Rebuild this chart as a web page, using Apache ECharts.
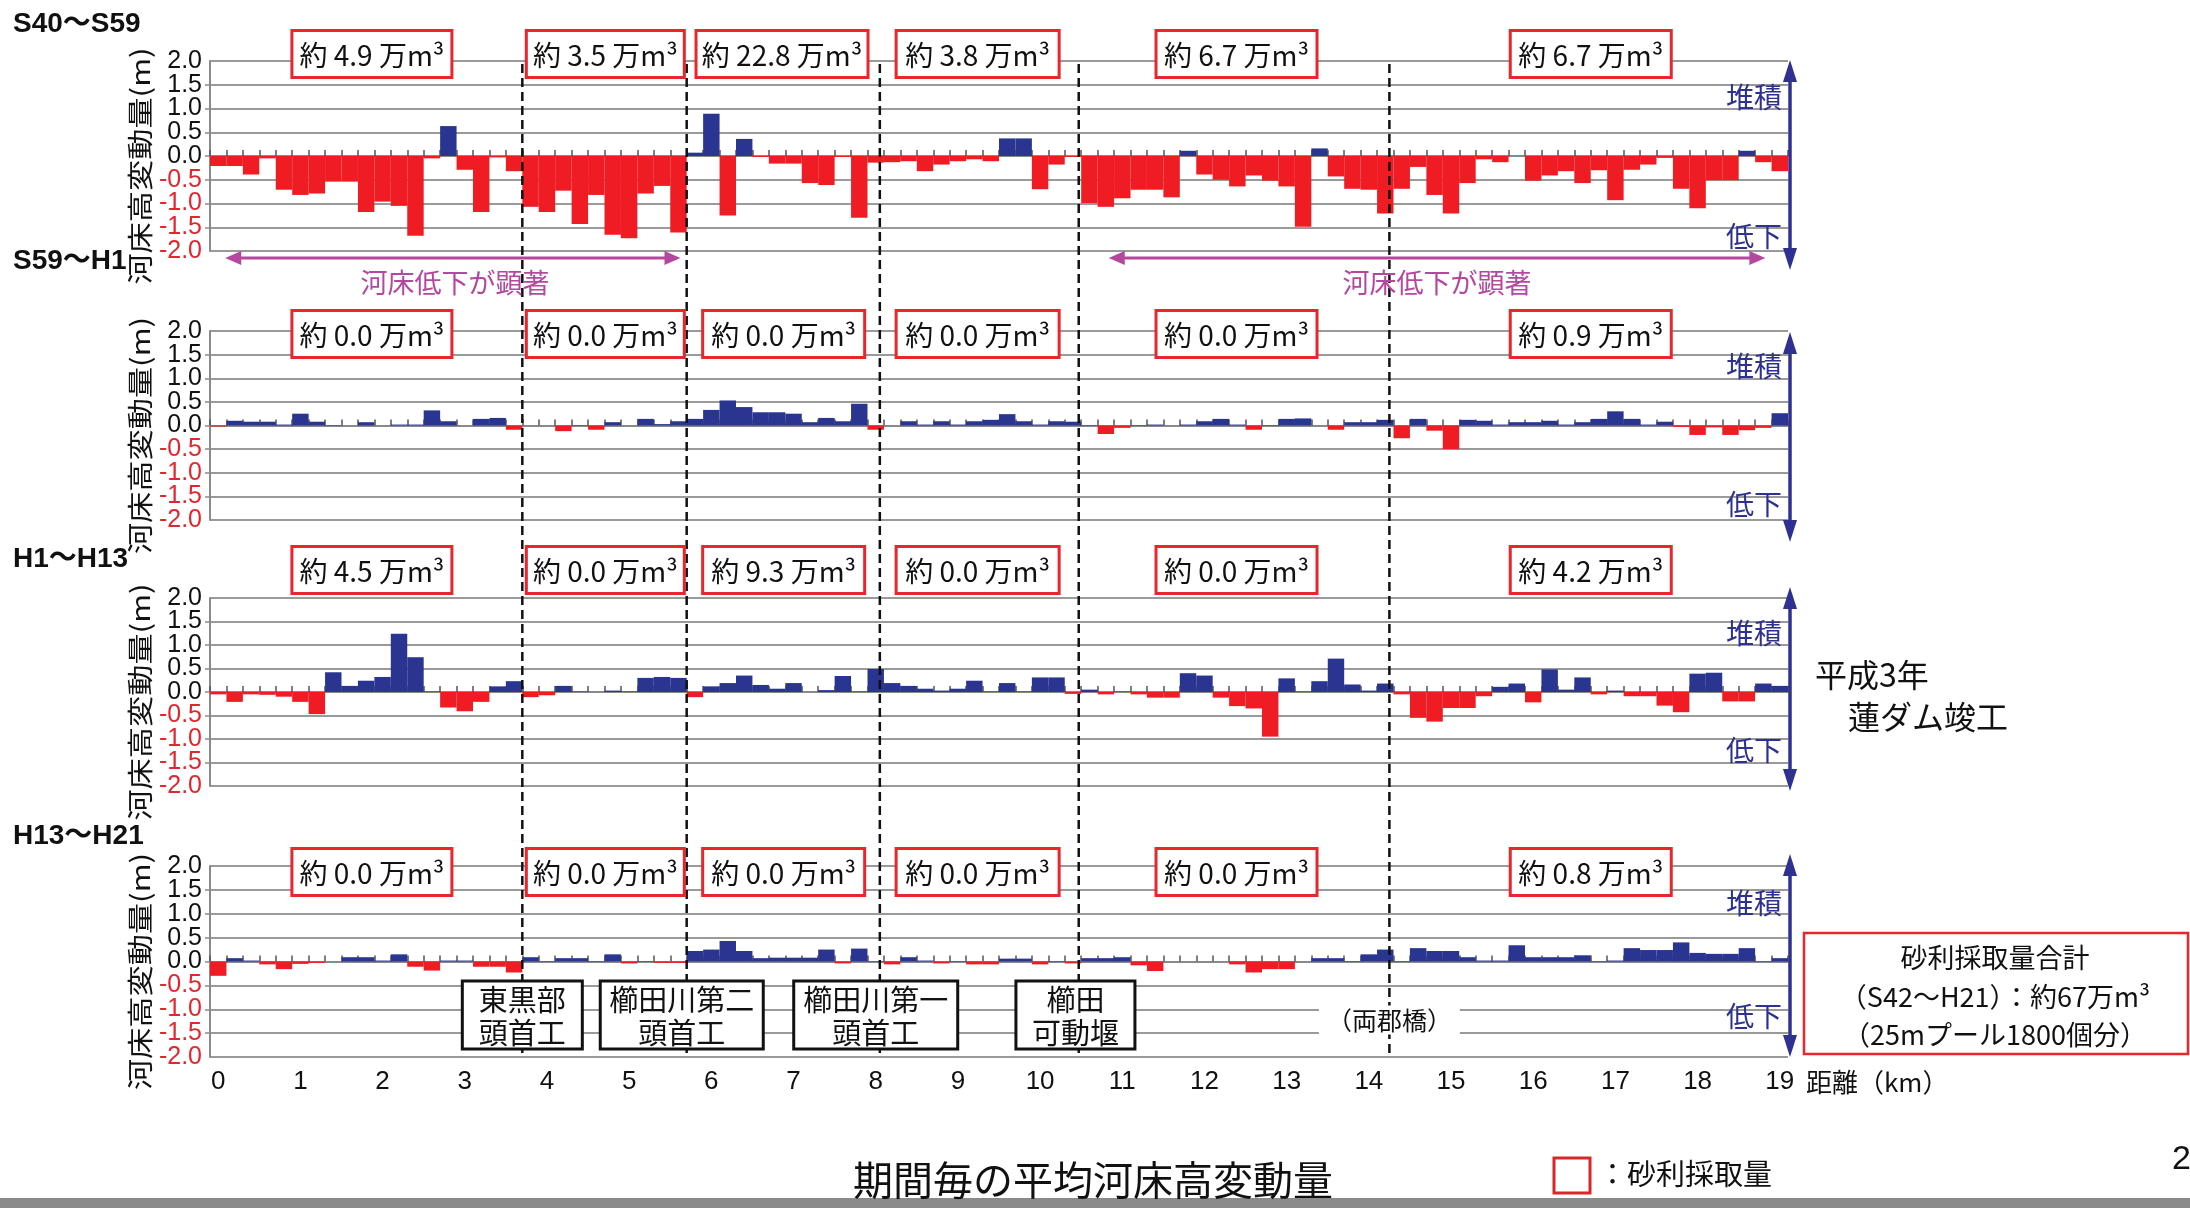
<!DOCTYPE html>
<html><head><meta charset="utf-8">
<script src="https://cdn.jsdelivr.net/npm/echarts@6/dist/echarts.min.js"></script>
<style>html,body{margin:0;padding:0;background:#fff}#c{width:2190px;height:1208px}</style>
</head><body><div id="c"></div>
<script>
// ---------- data ----------
const kmCats = ['0.0','0.2','0.4','0.6','0.8','1.0','1.2','1.4','1.6','1.8','2.0','2.2','2.4','2.6','2.8','3.0','3.2','3.4','3.6','3.8','4.0','4.2','4.4','4.6','4.8','5.0','5.2','5.4','5.6','5.8','6.0','6.2','6.4','6.6','6.8','7.0','7.2','7.4','7.6','7.8','8.0','8.2','8.4','8.6','8.8','9.0','9.2','9.4','9.6','9.8','10.0','10.2','10.4','10.6','10.8','11.0','11.2','11.4','11.6','11.8','12.0','12.2','12.4','12.6','12.8','13.0','13.2','13.4','13.6','13.8','14.0','14.2','14.4','14.6','14.8','15.0','15.2','15.4','15.6','15.8','16.0','16.2','16.4','16.6','16.8','17.0','17.2','17.4','17.6','17.8','18.0','18.2','18.4','18.6','18.8','19.0'];
const xTickLabels = ['0','1','2','3','4','5','6','7','8','9','10','11','12','13','14','15','16','17','18','19'];

const s40_s59 = [
 -0.21,-0.21,-0.39,-0.05,-0.71,-0.82,-0.79,-0.54,-0.54,-1.18,
 -0.96,-1.05,-1.68,-0.05,0.63,-0.29,-1.18,-0.03,-0.32,-1.07,
 -1.18,-0.73,-1.43,-0.82,-1.66,-1.73,-0.79,-0.63,-1.61,0.07,
 0.89,-1.25,0.36,-0.02,-0.16,-0.16,-0.57,-0.61,-0.02,-1.30,
 -0.14,-0.13,-0.11,-0.32,-0.18,-0.11,-0.07,-0.11,0.37,0.37,
 -0.70,-0.18,-0.02,-0.99,-1.07,-0.89,-0.71,-0.71,-0.87,0.11,
 -0.39,-0.50,-0.64,-0.41,-0.52,-0.64,-1.49,0.16,-0.43,-0.69,
 -0.71,-1.21,-0.69,-0.23,-0.82,-1.21,-0.57,-0.07,-0.13,0.00,
 -0.52,-0.41,-0.32,-0.57,-0.30,-0.93,-0.29,-0.18,-0.04,-0.69,
 -1.10,-0.51,-0.51,0.11,-0.13,-0.32];
const s59_h1 = [
 -0.02,0.10,0.08,0.08,0.02,0.25,0.08,0.01,0.00,0.07,
 0.00,0.02,0.02,0.32,0.09,0.00,0.14,0.16,-0.09,0.00,
 0.00,-0.12,0.01,-0.09,0.07,0.00,0.14,0.03,0.09,0.14,
 0.33,0.53,0.39,0.28,0.28,0.25,0.07,0.16,0.09,0.46,
 -0.09,0.00,0.09,0.02,0.09,0.02,0.09,0.12,0.24,0.09,
 0.02,0.09,0.08,0.01,-0.18,-0.05,0.01,0.02,0.00,0.02,
 0.09,0.14,0.02,-0.09,0.01,0.14,0.15,0.00,-0.09,0.07,
 0.07,0.12,-0.27,0.14,-0.11,-0.50,0.12,0.10,0.02,0.07,
 0.07,0.10,0.02,0.07,0.14,0.30,0.14,0.02,0.08,-0.03,
 -0.20,-0.04,-0.20,-0.10,-0.05,0.26];
const h1_h13 = [
 -0.05,-0.21,-0.05,-0.06,-0.10,-0.21,-0.47,0.42,0.13,0.24,
 0.32,1.24,0.74,0.01,-0.33,-0.41,-0.21,0.12,0.23,-0.11,
 -0.07,0.13,0.01,0.00,0.03,0.01,0.30,0.32,0.30,-0.11,
 0.12,0.19,0.35,0.15,0.07,0.19,0.00,0.04,0.34,0.01,
 0.49,0.19,0.13,0.07,0.03,0.07,0.24,0.01,0.19,0.01,
 0.31,0.31,-0.04,0.05,-0.05,0.01,-0.05,-0.12,-0.12,0.40,
 0.35,-0.12,-0.30,-0.35,-0.95,0.29,0.01,0.23,0.71,0.16,
 0.03,0.18,-0.05,-0.55,-0.63,-0.34,-0.34,-0.09,0.11,0.18,
 -0.22,0.48,0.05,0.31,-0.05,0.03,-0.09,-0.09,-0.29,-0.43,
 0.39,0.41,-0.20,-0.20,0.18,0.13];
const h13_h21 = [
 -0.30,0.07,0.02,-0.06,-0.16,-0.05,-0.03,0.00,0.09,0.09,
 0.02,0.15,-0.11,-0.19,0.02,0.02,-0.11,-0.11,-0.23,0.09,
 0.01,0.07,0.07,0.01,0.15,-0.04,0.01,-0.03,-0.03,0.22,
 0.25,0.43,0.22,0.07,0.08,0.08,0.08,0.25,-0.04,0.27,
 0.01,-0.06,0.09,0.02,-0.04,0.01,-0.06,-0.06,0.06,0.06,
 -0.06,0.01,-0.04,0.07,0.07,0.09,-0.08,-0.20,0.00,0.00,
 0.00,0.00,-0.06,-0.23,-0.16,-0.16,0.00,0.07,0.07,0.01,
 0.15,0.25,0.01,0.28,0.22,0.22,0.09,0.02,0.02,0.34,
 0.09,0.09,0.09,0.13,0.01,0.02,0.28,0.24,0.24,0.40,
 0.18,0.16,0.16,0.28,0.01,0.07];

const periodTitles = ['S40～S59','S59～H1','H1～H13','H13～H21'];
const gravel_s40_s59 = ['約 4.9 万m³','約 3.5 万m³','約 22.8 万m³','約 3.8 万m³','約 6.7 万m³','約 6.7 万m³'];
const gravel_s59_h1  = ['約 0.0 万m³','約 0.0 万m³','約 0.0 万m³','約 0.0 万m³','約 0.0 万m³','約 0.9 万m³'];
const gravel_h1_h13  = ['約 4.5 万m³','約 0.0 万m³','約 9.3 万m³','約 0.0 万m³','約 0.0 万m³','約 4.2 万m³'];
const gravel_h13_h21 = ['約 0.0 万m³','約 0.0 万m³','約 0.0 万m³','約 0.0 万m³','約 0.0 万m³','約 0.8 万m³'];
const gravelBoxKm = [1.87, 4.71, 6.88, 9.24, 12.39, 16.70];
const weirKm = [3.70, 5.70, 8.05, 10.47, 14.25];
const weirNames = ['東黒部\n頭首工','櫛田川第二\n頭首工','櫛田川第一\n頭首工','櫛田\n可動堰'];
const weirNameKm = [3.70, 5.64, 8.00, 10.43];
const declineKm = [[0.0, 5.6], [10.75, 18.8]];
const yAxisTitle = '河床高変動量(m)';

// ---------- layout ----------
const LEFT = 210, RIGHT = 1788, W = RIGHT - LEFT;
const panels = [{top:61,bottom:251},{top:331,bottom:520},{top:598,bottom:786},{top:866,bottom:1057}];
const RED = '#f01c24', BLUE = '#2a3592', NAVY = '#2e3192', MAG = '#b5479f', GRID = '#9a9a9a';
const CJK = '"Noto Sans CJK JP", sans-serif';
const LAT = '"Liberation Sans", "Noto Sans CJK JP", sans-serif';
const xOf = km => LEFT + (km + 0.1) / 19.2 * W;
const yOf = (i, v) => panels[i].top + (2 - v) / 4 * (panels[i].bottom - panels[i].top);

const seriesData = [s40_s59, s59_h1, h1_h13, h13_h21];
const gravelLabels = [gravel_s40_s59, gravel_s59_h1, gravel_h1_h13, gravel_h13_h21];

function txt(x, y, text, size, color, o) {
  o = o || {};
  const al = o.align || 'center';
  const st = {text, fill: color, fontSize: size, fontFamily: o.family || CJK,
    fontWeight: o.weight || 'normal', align: al, verticalAlign: 'middle',
    textAlign: al, textVerticalAlign: 'middle'};
  if (o.lh) st.lineHeight = o.lh;
  if (o.bg) { st.backgroundColor = o.bg; st.padding = o.pad || [0, 0]; }
  const el = {type: 'text', z: o.z || 60, x, y, style: st};
  if (o.rot) el.rotation = o.rot;
  if (o.sx) el.scaleX = o.sx;
  return el;
}
function rect(x, y, w, h, stroke, lw, z) {
  return {type: 'rect', z: z || 50, shape: {x, y, width: w, height: h},
    style: {fill: '#fff', stroke, lineWidth: lw}};
}
function vArrow(x, y1, y2, color, lw, hw, hl) {
  return [
    {type: 'line', z: 55, shape: {x1: x, y1: y1 + hl - 2, x2: x, y2: y2 - hl + 2}, style: {stroke: color, lineWidth: lw}},
    {type: 'polygon', z: 55, shape: {points: [[x, y1], [x - hw / 2, y1 + hl], [x + hw / 2, y1 + hl]]}, style: {fill: color}},
    {type: 'polygon', z: 55, shape: {points: [[x, y2], [x - hw / 2, y2 - hl], [x + hw / 2, y2 - hl]]}, style: {fill: color}}
  ];
}
function hArrow(x1, x2, y, color, lw, hh, hl) {
  return [
    {type: 'line', z: 55, shape: {x1: x1 + hl - 2, y1: y, x2: x2 - hl + 2, y2: y}, style: {stroke: color, lineWidth: lw}},
    {type: 'polygon', z: 55, shape: {points: [[x1, y], [x1 + hl, y - hh / 2], [x1 + hl, y + hh / 2]]}, style: {fill: color}},
    {type: 'polygon', z: 55, shape: {points: [[x2, y], [x2 - hl, y - hh / 2], [x2 - hl, y + hh / 2]]}, style: {fill: color}}
  ];
}

// ---------- axes ----------
const grids = panels.map(p => ({left: LEFT, top: p.top, width: W, height: p.bottom - p.top, outerBoundsMode: 'none'}));
grids.push({left: LEFT, top: panels[0].top, width: W, height: panels[3].bottom - panels[0].top, outerBoundsMode: 'none'});

const xAxes = panels.map((p, i) => ({
  type: 'category', gridIndex: i, data: kmCats, boundaryGap: true, position: 'bottom',
  axisLine: {show: true, onZero: true, lineStyle: {color: '#8a8a8a', width: 2}},
  axisTick: {show: true, inside: true, interval: 0, length: 6, lineStyle: {color: '#555', width: 1.5}},
  axisLabel: {show: false}, splitLine: {show: false}
}));
xAxes.push({
  type: 'category', gridIndex: 4, data: kmCats, boundaryGap: true, position: 'bottom',
  axisLine: {show: false}, axisTick: {show: false}, splitLine: {show: false},
  axisLabel: {show: true, interval: idx => idx % 5 === 0, margin: 12, fontSize: 26, fontFamily: LAT, color: '#111',
    formatter: (v, idx) => xTickLabels[Math.round(idx / 5)]}
});
xAxes.push({type: 'value', gridIndex: 4, min: -0.1, max: 19.1, show: false, position: 'top'});

const yLabelColor = v => (Number(v) < 0 ? '#e3262d' : '#111');
// main y axes: ticks every 0.5 (inner labels)
const yAxes = panels.map((p, i) => ({
  type: 'value', gridIndex: i, min: -2, max: 2, interval: 0.5, position: 'left',
  axisLine: {show: true, lineStyle: {color: '#8a8a8a', width: 2}},
  axisTick: {show: true, length: 5, lineStyle: {color: '#8a8a8a', width: 1.5}},
  axisLabel: {margin: 8, fontSize: 25, fontFamily: LAT, showMinLabel: false, showMaxLabel: false,
    color: yLabelColor, formatter: v => Number(v).toFixed(1)},
  splitLine: {show: true, lineStyle: {color: GRID, width: 2}}
}));
yAxes.push({type: 'value', gridIndex: 4, min: 0, max: 1, show: false});
// companion y axes carrying the end labels (2.0 / -2.0)
panels.forEach((p, i) => yAxes.push({
  type: 'value', gridIndex: i, min: -2, max: 2, interval: 2, position: 'left',
  axisLine: {show: false}, axisTick: {show: false}, splitLine: {show: false},
  axisLabel: {margin: 8, fontSize: 25, fontFamily: LAT, showMinLabel: true, showMaxLabel: true,
    color: yLabelColor, formatter: v => (Number(v) === 0 ? '' : Number(v).toFixed(1))}
}));

// ---------- series ----------
const series = seriesData.map((d, i) => ({
  type: 'bar', xAxisIndex: i, yAxisIndex: i, data: d, barCategoryGap: '0%', barGap: '0%',
  silent: true, itemStyle: {color: p => (p.value >= 0 ? BLUE : RED)}
}));
series.push({
  type: 'custom', xAxisIndex: 5, yAxisIndex: 4, z: 10, silent: true,
  data: weirKm.map(k => [k, 0]),
  renderItem: (params, api) => {
    const x = api.coord([api.value(0), 0])[0];
    const cs = params.coordSys;
    return {type: 'line', shape: {x1: x, y1: cs.y + 3, x2: x, y2: cs.y + cs.height},
      style: {stroke: '#111', lineWidth: 2.5, lineDash: [9, 5]}};
  }
});

// ---------- annotations ----------
const g = [];
const titleY = [24, 261, 559, 836];
periodTitles.forEach((t, i) => g.push(txt(13, titleY[i], t, 28, '#111', {align: 'left', weight: 'bold', family: LAT})));

// y-axis titles (rotated, elongated like the original)
panels.forEach((p, i) => g.push(txt(140, (p.top + p.bottom) / 2 + 10, yAxisTitle, 26, '#111', {rot: Math.PI / 2, sx: 1.2})));

const boxCY = [54, 334, 570, 872];
const boxW = [160, 158, 162, 163, 161, 161];
gravelLabels.forEach((labels, i) => {
  labels.forEach((lab, j) => {
    let cx = xOf(gravelBoxKm[j]), w = boxW[j];
    if (i === 0 && j === 2) { cx = xOf(6.86); w = 172; }
    g.push(rect(cx - w / 2, boxCY[i] - 23.5, w, 47, '#e8262b', 3));
    g.push(txt(cx, boxCY[i] + 1, lab, 28, '#111'));
  });
});

// decline arrows (panel 1)
declineKm.forEach(([a, b]) => {
  const x1 = xOf(a) + 7, x2 = xOf(b) + 2;
  hArrow(x1, x2, 258, MAG, 3, 14, 16).forEach(e => g.push(e));
});
g.push(txt(455, 283, '河床低下が顕著', 27, MAG));
g.push(txt(1437, 283, '河床低下が顕著', 27, MAG));

// right navy arrows
const arrowY = [[60, 270], [332, 542], [587, 791], [854, 1057]];
arrowY.forEach(([a, b]) => vArrow(1790, a, b, NAVY, 3.5, 14, 22).forEach(e => g.push(e)));
const upDownV = [[1.24, -1.70], [1.25, -1.67], [1.24, -1.24], [1.21, -1.15]];
upDownV.forEach(([u, d], i) => {
  g.push(txt(1782, yOf(i, u), '堆積', 28, NAVY, {align: 'right'}));
  g.push(txt(1782, yOf(i, d), '低下', 28, NAVY, {align: 'right'}));
});

g.push(txt(1815, 675, '平成3年', 32, '#111', {align: 'left'}));
g.push(txt(1848, 717, '蓮ダム竣工', 32, '#111', {align: 'left'}));

// weir boxes in panel 4
const weirBoxW = [120, 163, 164, 119];
weirNames.forEach((n, j) => {
  const cx = xOf(weirNameKm[j]);
  const y1 = 981, y2 = 1049;
  g.push(rect(cx - weirBoxW[j] / 2, y1, weirBoxW[j], y2 - y1, '#111', 3));
  g.push(txt(cx, (y1 + y2) / 2 + 1, n, 29, '#111', {lh: 33}));
});
g.push(txt(xOf(14.25), 1020, '（両郡橋）', 25, '#111', {bg: '#fff', pad: [2, 8]}));

// total gravel box
g.push(rect(1804, 933, 384, 121, '#e8262b', 2.5));
g.push(txt(1995, 958, '砂利採取量合計', 27, '#111'));
g.push(txt(1995, 997, '（S42～H21）：約67万m³', 27, '#111'));
g.push(txt(1995, 1035, '（25mプール1800個分）', 27, '#111'));

g.push(txt(1806, 1082, '距離（km）', 26, '#111', {align: 'left'}));

// footer
g.push(txt(1093, 1180, '期間毎の平均河床高変動量', 40, '#111'));
g.push(rect(1554, 1158, 36, 35, '#d8262b', 3));
g.push(txt(1598, 1174, '：砂利採取量', 29, '#111', {align: 'left'}));
g.push({type: 'rect', z: 50, shape: {x: 0, y: 1198, width: 2190, height: 10}, style: {fill: '#8a8a8a'}});
g.push(txt(2172, 1160, '2', 34, '#111', {align: 'left', family: LAT}));

const chart = echarts.init(document.getElementById('c'), null, {renderer: 'canvas'});
chart.setOption({
  animation: false,
  backgroundColor: '#fff',
  grid: grids, xAxis: xAxes, yAxis: yAxes, series,
  graphic: {elements: g}
});
</script></body></html>
